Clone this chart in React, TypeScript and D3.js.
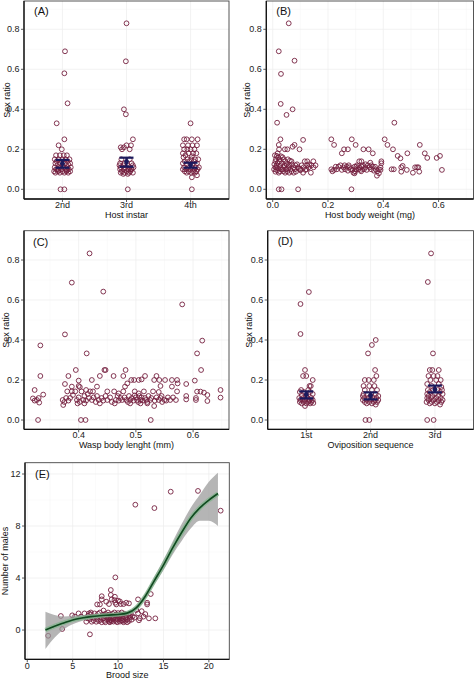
import React from "react";
import * as d3 from "d3";

// ---------------- DATA ----------------
const instarCats = ["2nd", "3rd", "4th"];
const seqCats = ["1st", "2nd", "3rd"];
const ratioTicks = [0, 0.2, 0.4, 0.6, 0.8];
const weightTicks = [0, 0.2, 0.4, 0.6];
const lengthTicks = [0.4, 0.5, 0.6];
const broodTicks = [0, 5, 10, 15, 20];
const malesTicks = [0, 4, 8, 12];

// [jitter (fraction of category step), sex ratio]
const instar2nd: [number, number][] = [
  [0.04, 0.69], [0.03, 0.58], [0.08, 0.43], [-0.09, 0.33], [0.03, 0.25], [-0.06, 0.22], [-0.01, 0.2], [-0.03, 0], [0.03, 0],
  [-0.1, 0.17], [-0.04, 0.17], [0.02, 0.17], [0.07, 0.17], [-0.12, 0.15], [-0.06, 0.15], [0.0, 0.15], [0.05, 0.15], [0.11, 0.15],
  [-0.09, 0.14], [0.08, 0.14], [-0.11, 0.13], [-0.03, 0.13], [0.04, 0.13], [0.12, 0.13], [-0.07, 0.125], [0.09, 0.125],
  [-0.12, 0.11], [-0.05, 0.11], [0.02, 0.11], [0.08, 0.11], [0.13, 0.11], [-0.1, 0.1], [-0.02, 0.1], [0.05, 0.1], [0.1, 0.1],
  [-0.13, 0.09], [-0.07, 0.09], [0.0, 0.09], [0.06, 0.09], [0.12, 0.09], [-0.11, 0.083], [-0.04, 0.083], [0.03, 0.083],
  [0.09, 0.083], [-0.08, 0.1], [0.0, 0.12], [-0.06, 0.095], [0.07, 0.095],
];
const instar3rd: [number, number][] = [
  [0.0, 0.83], [-0.01, 0.64], [-0.04, 0.4], [-0.01, 0.375], [0.1, 0.25], [0.07, 0.22], [-0.04, 0.21], [-0.09, 0.21], [0.0, 0.22],
  [0.05, 0.2], [-0.07, 0.2], [0.02, 0],
  [-0.08, 0.15], [0.05, 0.15], [-0.1, 0.13], [-0.03, 0.13], [0.08, 0.13], [-0.11, 0.12], [-0.05, 0.12], [0.02, 0.12], [0.1, 0.12],
  [-0.09, 0.11], [-0.02, 0.11], [0.05, 0.11], [0.11, 0.11], [-0.1, 0.1], [-0.04, 0.1], [0.03, 0.1], [0.08, 0.1], [-0.07, 0.09],
  [0.0, 0.09], [0.06, 0.09], [-0.09, 0.083], [-0.03, 0.083], [0.04, 0.083], [0.1, 0.083], [-0.05, 0.077], [0.02, 0.077], [0.07, 0.1],
];
const instar4th: [number, number][] = [
  [0.0, 0.33], [-0.1, 0.25], [-0.06, 0.25], [0.02, 0.25], [0.11, 0.25], [-0.12, 0.22], [-0.04, 0.22], [0.03, 0.22], [0.1, 0.22],
  [-0.1, 0.2], [-0.05, 0.2], [0.0, 0.2], [0.06, 0.2], [-0.12, 0.18], [-0.03, 0.18], [0.04, 0.18], [0.09, 0.18], [-0.08, 0.17],
  [0.02, 0.165], [-0.11, 0.16], [-0.05, 0.15], [0.01, 0.15], [0.07, 0.15], [0.12, 0.15], [-0.09, 0.14], [-0.02, 0.14], [0.05, 0.14],
  [-0.12, 0.13], [-0.06, 0.125], [0.03, 0.125], [0.1, 0.13], [-0.1, 0.11], [-0.04, 0.11], [0.02, 0.11], [0.08, 0.11], [0.13, 0.11],
  [-0.12, 0.1], [-0.07, 0.1], [0.0, 0.1], [0.06, 0.1], [0.11, 0.1], [-0.09, 0.09], [-0.03, 0.09], [0.04, 0.09], [0.09, 0.09],
  [-0.06, 0.083], [0.01, 0.083], [0.07, 0.083], [0.1, 0.07], [0.02, 0.06], [0.02, 0],
];
// [mean, lower, upper]
const instarMeans: [number, number, number][] = [
  [0.13, 0.108, 0.147], [0.138, 0.113, 0.158], [0.122, 0.108, 0.133],
];

const seq1st: [number, number][] = [
  [0.04, 0.64], [-0.09, 0.58], [-0.09, 0.43], [-0.02, 0.25], [-0.05, 0.22], [0.0, 0.22], [0.1, 0.2], [0.07, 0.17], [0.05, 0.17],
  [-0.08, 0.15], [0.03, 0.15], [-0.1, 0.14], [-0.04, 0.14], [0.06, 0.14], [0.1, 0.13], [-0.07, 0.125], [0.0, 0.12],
  [-0.11, 0.11], [-0.05, 0.11], [0.02, 0.11], [0.08, 0.11], [-0.09, 0.1], [-0.02, 0.1], [0.05, 0.1], [0.1, 0.1],
  [-0.1, 0.09], [-0.04, 0.09], [0.03, 0.09], [0.08, 0.09], [-0.07, 0.083], [0.0, 0.083], [0.06, 0.083], [-0.02, 0.07],
  [0.04, 0.095], [-0.06, 0.1], [0.11, 0.085],
];
const seq2nd: [number, number][] = [
  [0.08, 0.4], [0.02, 0.375], [-0.04, 0.333], [0.07, 0.25], [0.09, 0.22], [-0.09, 0.2], [-0.03, 0.2], [0.05, 0.2], [0.06, 0.17],
  [-0.11, 0.17], [-0.02, 0.17], [-0.09, 0.15], [0.02, 0.15], [0.1, 0.15], [-0.11, 0.13], [-0.05, 0.13], [0.08, 0.13],
  [-0.12, 0.12], [0.0, 0.12], [0.12, 0.12], [-0.1, 0.11], [-0.04, 0.11], [0.03, 0.11], [0.09, 0.11], [-0.12, 0.1], [-0.06, 0.1],
  [0.01, 0.1], [0.07, 0.1], [0.12, 0.1], [-0.09, 0.09], [-0.02, 0.09], [0.05, 0.09], [0.1, 0.09], [-0.06, 0.083], [0.02, 0.083],
  [0.08, 0.077], [-0.08, 0], [-0.02, 0],
];
const seq3rd: [number, number][] = [
  [-0.06, 0.833], [-0.11, 0.69], [-0.03, 0.333], [-0.08, 0.25], [-0.04, 0.25], [0.06, 0.25], [-0.1, 0.22], [-0.02, 0.22],
  [0.04, 0.22], [-0.07, 0.2], [0.02, 0.2], [0.09, 0.2], [-0.12, 0.18], [0.06, 0.18], [-0.05, 0.17], [0.1, 0.165],
  [-0.11, 0.15], [-0.03, 0.15], [0.04, 0.15], [0.11, 0.15], [-0.08, 0.14], [0.08, 0.14], [-0.12, 0.13], [0.0, 0.13],
  [0.12, 0.13], [-0.1, 0.12], [-0.04, 0.12], [0.05, 0.12], [-0.12, 0.11], [-0.06, 0.11], [0.02, 0.11], [0.09, 0.11],
  [-0.1, 0.1], [-0.02, 0.1], [0.06, 0.1], [0.12, 0.1], [-0.13, 0.09], [-0.05, 0.09], [0.03, 0.09], [0.1, 0.09],
  [-0.08, 0.083], [0.0, 0.083], [0.08, 0.077], [-0.12, 0], [-0.02, 0],
];
const seqMeans: [number, number, number][] = [
  [0.127, 0.108, 0.143], [0.122, 0.103, 0.138], [0.153, 0.138, 0.172],
];

// [host body weight (mg), sex ratio]
const weightRatio: [number, number][] = [
  [0.058, 0.83], [0.022, 0.69], [0.079, 0.643], [0.03, 0.577], [0.029, 0.427], [0.072, 0.4], [0.05, 0.372], [0.016, 0.333], [0.44, 0.333],
  [0.028, 0.25], [0.11, 0.247], [0.212, 0.25], [0.286, 0.25], [0.405, 0.25],
  [0.222, 0.222], [0.3, 0.222], [0.415, 0.222], [0.532, 0.222], [0.022, 0.222], [0.079, 0.222], [0.072, 0.213],
  [0.023, 0.2], [0.044, 0.2], [0.053, 0.2], [0.097, 0.2], [0.258, 0.2], [0.272, 0.2], [0.328, 0.2], [0.347, 0.2], [0.435, 0.2],
  [0.55, 0.18], [0.487, 0.18], [0.362, 0.18], [0.25, 0.18], [0.452, 0.167], [0.462, 0.155], [0.593, 0.157], [0.605, 0.167], [0.559, 0.157],
  [0.116, 0.14], [0.125, 0.14], [0.147, 0.14], [0.313, 0.14], [0.321, 0.14], [0.353, 0.133], [0.393, 0.14], [0.393, 0.13],
  [0.43, 0.1], [0.465, 0.11], [0.47, 0.117], [0.485, 0.097], [0.507, 0.083], [0.515, 0.11], [0.522, 0.11], [0.527, 0.11],
  [0.53, 0.088], [0.612, 0.097], [0.465, 0.088], [0.438, 0.1],
  [0.022, 0], [0.032, 0], [0.092, 0], [0.285, 0],
  [0.377, 0.068], [0.384, 0.08], [0.296, 0.08],
  // dense low-weight cluster
  [0.008, 0.17], [0.015, 0.167], [0.02, 0.16], [0.03, 0.165], [0.012, 0.15], [0.025, 0.15], [0.04, 0.15], [0.055, 0.15],
  [0.062, 0.143], [0.068, 0.14], [0.045, 0.14], [0.01, 0.14], [0.018, 0.133], [0.033, 0.13], [0.05, 0.125], [0.07, 0.125],
  [0.082, 0.12], [0.088, 0.125], [0.006, 0.125], [0.014, 0.12], [0.027, 0.117], [0.04, 0.113], [0.058, 0.113], [0.075, 0.11],
  [0.01, 0.11], [0.02, 0.105], [0.035, 0.1], [0.048, 0.1], [0.064, 0.1], [0.08, 0.1], [0.095, 0.103], [0.005, 0.1],
  [0.016, 0.095], [0.026, 0.09], [0.038, 0.09], [0.052, 0.09], [0.068, 0.09], [0.084, 0.088], [0.01, 0.088],
  [0.022, 0.083], [0.045, 0.083], [0.06, 0.083], [0.076, 0.083], [0.03, 0.1], [0.014, 0.11], [0.042, 0.12], [0.056, 0.105],
  [0.024, 0.14], [0.036, 0.16], [0.018, 0.18], [0.06, 0.12], [0.092, 0.11], [0.1, 0.095],
  // mid cluster
  [0.105, 0.12], [0.112, 0.11], [0.118, 0.097], [0.125, 0.12], [0.13, 0.11], [0.138, 0.083], [0.14, 0.12], [0.148, 0.11],
  [0.11, 0.083], [0.122, 0.1], [0.155, 0.12], [0.132, 0.125], [0.1, 0.1],
  // 0.21-0.39 band
  [0.212, 0.1], [0.216, 0.09], [0.222, 0.097], [0.232, 0.1], [0.238, 0.113], [0.245, 0.12], [0.25, 0.097], [0.256, 0.11],
  [0.262, 0.1], [0.268, 0.113], [0.272, 0.093], [0.278, 0.11], [0.282, 0.1], [0.288, 0.097], [0.292, 0.083], [0.296, 0.113],
  [0.3, 0.1], [0.305, 0.12], [0.31, 0.1], [0.314, 0.11], [0.318, 0.097], [0.322, 0.113], [0.326, 0.12], [0.33, 0.1],
  [0.335, 0.11], [0.34, 0.097], [0.344, 0.12], [0.35, 0.11], [0.356, 0.1], [0.362, 0.113], [0.366, 0.093], [0.372, 0.1],
  [0.378, 0.09], [0.384, 0.1], [0.39, 0.097], [0.39, 0.11], [0.228, 0.113], [0.26, 0.12], [0.275, 0.12], [0.302, 0.113],
  [0.336, 0.125], [0.357, 0.12], [0.37, 0.113], [0.298, 0.09], [0.32, 0.09],
];

// [wasp body length (mm), sex ratio]
const lengthRatio: [number, number][] = [
  [0.419, 0.833], [0.388, 0.687], [0.443, 0.642], [0.581, 0.578], [0.376, 0.428], [0.333, 0.373], [0.414, 0.333], [0.616, 0.397],
  [0.607, 0.333], [0.614, 0.25],
  [0.395, 0.25], [0.445, 0.25], [0.447, 0.25], [0.482, 0.25],
  [0.333, 0.22], [0.382, 0.22], [0.437, 0.22], [0.461, 0.22], [0.478, 0.22], [0.536, 0.22], [0.516, 0.22],
  [0.376, 0.18], [0.4, 0.197], [0.423, 0.2], [0.492, 0.2], [0.497, 0.2], [0.505, 0.2], [0.51, 0.203], [0.532, 0.2], [0.541, 0.2],
  [0.551, 0.2], [0.563, 0.2], [0.572, 0.2], [0.588, 0.18], [0.603, 0.197], [0.607, 0.142], [0.613, 0.142],
  [0.432, 0.167], [0.481, 0.167], [0.485, 0.183], [0.543, 0.17], [0.563, 0.167], [0.573, 0.183], [0.388, 0.167], [0.4, 0.17],
  [0.402, 0.165], [0.413, 0.15],
  [0.329, 0], [0.404, 0], [0.412, 0], [0.526, 0],
  [0.648, 0.15], [0.648, 0.112], [0.625, 0.125], [0.625, 0.095], [0.619, 0.137], [0.605, 0.11], [0.605, 0.1], [0.588, 0.12],
  [0.588, 0.103], [0.323, 0.15], [0.32, 0.108], [0.338, 0.127], [0.327, 0.1], [0.331, 0.087], [0.532, 0.07], [0.373, 0.075],
  [0.323, 0.097], [0.33, 0.11],
  // dense band
  [0.372, 0.1], [0.375, 0.09], [0.378, 0.11], [0.38, 0.143], [0.382, 0.097], [0.385, 0.11], [0.39, 0.125], [0.394, 0.143],
  [0.397, 0.1], [0.4, 0.113], [0.402, 0.09], [0.405, 0.143], [0.408, 0.1], [0.41, 0.12], [0.413, 0.097], [0.416, 0.13],
  [0.418, 0.11], [0.42, 0.143], [0.423, 0.1], [0.426, 0.113], [0.43, 0.09], [0.432, 0.12], [0.435, 0.1], [0.44, 0.11],
  [0.443, 0.097], [0.447, 0.12], [0.45, 0.1], [0.455, 0.113], [0.458, 0.09], [0.462, 0.143], [0.465, 0.1], [0.468, 0.12],
  [0.47, 0.097], [0.473, 0.11], [0.476, 0.1], [0.478, 0.143], [0.48, 0.113], [0.483, 0.1], [0.486, 0.09], [0.488, 0.12],
  [0.49, 0.1], [0.493, 0.11], [0.496, 0.097], [0.498, 0.143], [0.5, 0.113], [0.502, 0.1], [0.504, 0.09], [0.506, 0.12],
  [0.508, 0.1], [0.51, 0.113], [0.512, 0.097], [0.514, 0.143], [0.516, 0.11], [0.518, 0.1], [0.52, 0.09], [0.522, 0.12],
  [0.525, 0.1], [0.527, 0.11], [0.53, 0.143], [0.533, 0.097], [0.536, 0.113], [0.54, 0.1], [0.543, 0.11], [0.546, 0.09],
  [0.55, 0.1], [0.553, 0.097], [0.556, 0.113], [0.56, 0.1], [0.565, 0.113], [0.57, 0.1], [0.572, 0.143], [0.545, 0.12],
  [0.508, 0.083], [0.49, 0.083], [0.463, 0.083], [0.437, 0.083], [0.41, 0.083], [0.398, 0.083], [0.52, 0.083],
  [0.388, 0.143], [0.425, 0.143], [0.45, 0.143], [0.47, 0.133], [0.505, 0.133], [0.54, 0.14], [0.498, 0.123],
];

// [brood size, number of males]
const broodMales: [number, number][] = [
  [2.3, -0.44], [3.7, 1.08], [3.85, 0.08], [4.95, 1.13], [5.25, 1.03], [6.9, -0.33], [9.7, 4.05], [11.9, 9.64], [14.0, 9.38],
  [15.8, 10.64], [18.8, 10.7], [21.3, 9.18], [12.2, 2.36], [13.2, 2.1], [13.2, 1.97], [13.6, 2.77], [13.0, 1.23], [12.8, 1.03],
  [13.4, 0.9], [14.1, 0.9], [12.2, 1.28], [12.0, 1.54], [12.4, 0.9],
  [9.2, 3.08], [9.2, 2.7], [8.2, 2.6], [8.2, 2.36], [8.0, 1.97], [7.7, 1.97], [8.7, 2.18], [9.7, 2.1], [9.6, 2.3], [10.0, 2.26],
  [9.8, 1.97], [10.3, 2.0], [10.6, 2.0], [10.9, 2.1], [11.2, 2.05], [9.65, 2.56], [9.3, 2.36], [10.2, 2.2], [9.0, 2.0],
  [5.65, 1.28], [5.9, 1.03], [6.3, 1.28], [6.5, 0.64], [6.6, 0.9], [6.8, 1.28], [7.1, 0.64], [7.4, 1.28], [7.6, 0.64],
  [6.7, 1.1], [6.9, 0.85], [7.0, 1.2], [7.2, 0.95], [7.3, 0.75], [7.5, 1.05], [7.7, 0.85], [7.8, 1.25], [7.9, 0.7],
  [8.0, 1.0], [8.1, 0.8], [8.3, 1.15], [8.4, 0.9], [8.5, 0.7], [8.6, 1.25], [8.7, 1.0], [8.8, 0.8], [8.9, 1.15],
  [9.0, 0.65], [9.0, 0.95], [9.1, 1.2], [9.2, 0.8], [9.3, 1.05], [9.3, 0.7], [9.4, 1.25], [9.5, 0.9], [9.5, 0.65],
  [9.6, 1.1], [9.7, 0.8], [9.8, 1.2], [9.8, 0.7], [9.9, 0.95], [10.0, 1.3], [10.0, 0.8], [10.1, 1.05], [10.2, 0.65],
  [10.3, 0.9], [10.3, 1.2], [10.4, 0.75], [10.5, 1.05], [10.6, 0.85], [10.7, 1.25], [10.8, 0.7], [10.9, 1.0], [11.0, 0.8],
  [11.1, 1.15], [11.2, 0.7], [11.3, 0.95], [11.4, 1.25], [11.5, 0.8], [11.6, 1.05], [8.9, 1.35], [9.6, 1.35], [10.4, 1.35],
  [8.2, 0.6], [8.6, 0.6], [9.1, 0.6], [9.9, 0.6], [10.6, 0.6], [11.0, 0.6], [7.0, 1.35], [8.0, 1.35], [11.8, 0.95],
  [12.3, 0.75], [12.6, 1.45], [8.4, 1.5],
  [8.8, 1.05], [9.4, 0.85], [10.2, 1.1], [10.8, 0.95], [9.9, 1.15], [9.1, 0.75], [8.5, 1.1], [10.5, 0.7], [11.3, 1.1],
];

// smooth fit (brood size -> males) with confidence band
const fitX = [2, 3, 4, 5, 6, 7, 8, 9, 10, 11, 12, 13, 14, 15, 16, 17, 18, 19, 20, 21];
const fitY = [0.0, 0.3, 0.55, 0.78, 0.93, 1.03, 1.1, 1.15, 1.2, 1.3, 1.7, 2.6, 3.8, 5.0, 6.3, 7.5, 8.6, 9.4, 10.0, 10.5];
const fitLow = [-1.45, -0.6, 0.05, 0.45, 0.7, 0.86, 0.97, 1.03, 1.08, 1.15, 1.5, 2.35, 3.5, 4.6, 5.8, 6.85, 7.8, 8.4, 8.4, 8.0];
const fitHigh = [1.4, 1.15, 1.05, 1.1, 1.15, 1.2, 1.23, 1.27, 1.32, 1.45, 1.9, 2.85, 4.1, 5.4, 6.8, 8.15, 9.4, 10.4, 11.4, 12.1];

// ---------------- STYLE ----------------
const FONT = "'Liberation Sans', Arial, sans-serif";
const FS = 9;
const PT = "#75203f";
const EB = "#1b1a5c";

type Box = { left: number; right: number; top: number; bottom: number };

function Frame({ box, xGrid, yGrid, xMinor, yMinor, children }: any) {
  return (
    <g>
      <rect x={box.left} y={box.top} width={box.right - box.left} height={box.bottom - box.top} fill="#fff" />
      {yMinor.map((v: number, i: number) => (
        <line key={"ym" + i} x1={box.left} x2={box.right} y1={v} y2={v} stroke="#f4f4f4" strokeWidth={0.5} />
      ))}
      {xMinor.map((v: number, i: number) => (
        <line key={"xm" + i} y1={box.top} y2={box.bottom} x1={v} x2={v} stroke="#f4f4f4" strokeWidth={0.5} />
      ))}
      {yGrid.map((v: number, i: number) => (
        <line key={"yg" + i} x1={box.left} x2={box.right} y1={v} y2={v} stroke="#ececec" strokeWidth={0.7} />
      ))}
      {xGrid.map((v: number, i: number) => (
        <line key={"xg" + i} y1={box.top} y2={box.bottom} x1={v} x2={v} stroke="#ececec" strokeWidth={0.7} />
      ))}
      {children}
      <rect x={box.left} y={box.top} width={box.right - box.left} height={box.bottom - box.top} fill="none" stroke="#444" strokeWidth={0.9} />
      <line x1={box.left} x2={box.left} y1={box.top} y2={box.bottom} stroke="#111" strokeWidth={1.3} />
      <line x1={box.left} x2={box.right} y1={box.bottom} y2={box.bottom} stroke="#111" strokeWidth={1.3} />
    </g>
  );
}

function YAxis({ box, ticks, scale, fmt, title, titleX }: any) {
  const cy = (box.top + box.bottom) / 2;
  return (
    <g fontFamily={FONT} fontSize={FS} fill="#222">
      {ticks.map((t: number, i: number) => (
        <g key={i}>
          <line x1={box.left - 3} x2={box.left} y1={scale(t)} y2={scale(t)} stroke="#333" strokeWidth={0.8} />
          <text x={box.left - 4.5} y={scale(t)} dy="0.35em" textAnchor="end">{fmt(t)}</text>
        </g>
      ))}
      <text transform={`translate(${titleX},${cy}) rotate(-90)`} textAnchor="middle" fill="#111">{title}</text>
    </g>
  );
}

function XAxis({ box, ticks, pos, labels, title, tickY, titleY }: any) {
  const cx = (box.left + box.right) / 2;
  return (
    <g fontFamily={FONT} fontSize={FS} fill="#222">
      {ticks.map((t: any, i: number) => (
        <g key={i}>
          <line x1={pos(t)} x2={pos(t)} y1={box.bottom} y2={box.bottom + 3} stroke="#333" strokeWidth={0.8} />
          <text x={pos(t)} y={tickY} textAnchor="middle">{labels[i]}</text>
        </g>
      ))}
      <text x={cx} y={titleY} textAnchor="middle" fill="#111">{title}</text>
    </g>
  );
}

function Pts({ data, x, y }: any) {
  return (
    <g>
      {data.map((d: [number, number], i: number) => (
        <circle key={i} cx={x(d)} cy={y(d)} r={2.4} fill="none" stroke={PT} strokeWidth={0.9} />
      ))}
    </g>
  );
}

function ErrBars({ cats, means, x, y }: any) {
  return (
    <g stroke={EB} strokeWidth={2.2}>
      {means.map((m: [number, number, number], i: number) => {
        const cx = x(cats[i]);
        return (
          <g key={i}>
            <line x1={cx} x2={cx} y1={y(m[1])} y2={y(m[2])} />
            <line x1={cx - 7} x2={cx + 7} y1={y(m[1])} y2={y(m[1])} />
            <line x1={cx - 7} x2={cx + 7} y1={y(m[2])} y2={y(m[2])} />
            <circle cx={cx} cy={y(m[0])} r={2.4} fill={EB} stroke="none" />
          </g>
        );
      })}
    </g>
  );
}

const f1 = d3.format(".1f");
const minorRatio = [0.1, 0.3, 0.5, 0.7, 0.9];

function CatPanel({ box, cats, groups, means, label, title, titleX, tickY, titleY, yDomain }: any) {
  const x = d3.scalePoint<string>().domain(cats).range([box.left, box.right]).padding(0.6);
  const y = d3.scaleLinear().domain(yDomain).range([box.bottom, box.top]);
  const step = x.step();
  return (
    <g>
      <Frame box={box} xGrid={cats.map((c: string) => x(c))} yGrid={ratioTicks.map(y)} xMinor={[]} yMinor={minorRatio.map(y)}>
        {groups.map((g: [number, number][], gi: number) => (
          <Pts key={gi} data={g} x={(d: [number, number]) => (x(cats[gi]) as number) + d[0] * step} y={(d: [number, number]) => y(d[1])} />
        ))}
        <ErrBars cats={cats} means={means} x={x} y={y} />
        <text x={box.left + 10} y={box.top + 14} fontFamily={FONT} fontSize={11} fill="#111">{label}</text>
      </Frame>
      <YAxis box={box} ticks={ratioTicks} scale={y} fmt={f1} title="Sex ratio" titleX={titleX} />
      <XAxis box={box} ticks={cats} pos={x} labels={cats} title={title} tickY={tickY} titleY={titleY} />
    </g>
  );
}

export default function App() {
  const boxA: Box = { left: 24, right: 229, top: 1, bottom: 199 };
  const boxB: Box = { left: 266.3, right: 473.5, top: 1, bottom: 199 };
  const boxC: Box = { left: 24, right: 229, top: 230.7, bottom: 429.3 };
  const boxD: Box = { left: 267.7, right: 473.5, top: 230.7, bottom: 429.3 };
  const boxE: Box = { left: 25, right: 229.3, top: 462.7, bottom: 659.3 };

  // B
  const xB = d3.scaleLinear().domain([-0.0231, 0.7262]).range([boxB.left, boxB.right]);
  const yB = d3.scaleLinear().domain([-0.0485, 0.9415]).range([boxB.bottom, boxB.top]);
  // C
  const xC = d3.scaleLinear().domain([0.3044, 0.6628]).range([boxC.left, boxC.right]);
  const yC = d3.scaleLinear().domain([-0.0465, 0.9465]).range([boxC.bottom, boxC.top]);
  // E
  const xE = d3.scaleLinear().domain([-0.25, 22.25]).range([boxE.left, boxE.right]);
  const yE = d3.scaleLinear().domain([-2.25, 12.87]).range([boxE.bottom, boxE.top]);

  const fitIdx = fitX.map((_, i) => i);
  const area = d3.area<number>().x((i) => xE(fitX[i])).y0((i) => yE(fitLow[i])).y1((i) => yE(fitHigh[i])).curve(d3.curveMonotoneX);
  const line = d3.line<number>().x((i) => xE(fitX[i])).y((i) => yE(fitY[i])).curve(d3.curveMonotoneX);

  return (
    <svg width={474} height={678} style={{ position: "absolute", left: 0, top: 0, background: "#fff" }}>
      <CatPanel box={boxA} cats={instarCats} groups={[instar2nd, instar3rd, instar4th]} means={instarMeans} label="(A)"
        title="Host instar" titleX={10} tickY={207.5} titleY={217.5} yDomain={[-0.0485, 0.9415]} />

      <g>
        <Frame box={boxB} xGrid={weightTicks.map(xB)} yGrid={ratioTicks.map(yB)} xMinor={[0.1, 0.3, 0.5, 0.7].map(xB)} yMinor={minorRatio.map(yB)}>
          <Pts data={weightRatio} x={(d: [number, number]) => xB(d[0])} y={(d: [number, number]) => yB(d[1])} />
          <text x={boxB.left + 10} y={boxB.top + 14} fontFamily={FONT} fontSize={11} fill="#111">(B)</text>
        </Frame>
        <YAxis box={boxB} ticks={ratioTicks} scale={yB} fmt={f1} title="Sex ratio" titleX={250} />
        <XAxis box={boxB} ticks={weightTicks} pos={xB} labels={weightTicks.map(f1)} title="Host body weight (mg)" tickY={207.5} titleY={217.5} />
      </g>

      <g>
        <Frame box={boxC} xGrid={lengthTicks.map(xC)} yGrid={ratioTicks.map(yC)} xMinor={[0.35, 0.45, 0.55, 0.65].map(xC)} yMinor={minorRatio.map(yC)}>
          <Pts data={lengthRatio} x={(d: [number, number]) => xC(d[0])} y={(d: [number, number]) => yC(d[1])} />
          <text x={boxC.left + 9} y={boxC.top + 15} fontFamily={FONT} fontSize={11} fill="#111">(C)</text>
        </Frame>
        <YAxis box={boxC} ticks={ratioTicks} scale={yC} fmt={f1} title="Sex ratio" titleX={9} />
        <XAxis box={boxC} ticks={lengthTicks} pos={xC} labels={lengthTicks.map(f1)} title="Wasp body lenght (mm)" tickY={437.5} titleY={447.5} />
      </g>

      <CatPanel box={boxD} cats={seqCats} groups={[seq1st, seq2nd, seq3rd]} means={seqMeans} label="(D)"
        title="Oviposition sequence" titleX={251.5} tickY={437.5} titleY={447.5} yDomain={[-0.0465, 0.9465]} />

      <g>
        <Frame box={boxE} xGrid={broodTicks.map(xE)} yGrid={malesTicks.map(yE)} xMinor={[2.5, 7.5, 12.5, 17.5].map(xE)} yMinor={[-2, 2, 6, 10].map(yE)}>
          <Pts data={broodMales} x={(d: [number, number]) => xE(d[0])} y={(d: [number, number]) => yE(d[1])} />
          <path d={area(fitIdx) || ""} fill="#999" fillOpacity={0.72} />
          <path d={line(fitIdx) || ""} fill="none" stroke="#7fb38a" strokeWidth={4.5} strokeOpacity={0.7} />
          <path d={line(fitIdx) || ""} fill="none" stroke="#0f4a1f" strokeWidth={1.6} />
          <text x={boxE.left + 10} y={boxE.top + 15} fontFamily={FONT} fontSize={11} fill="#111">(E)</text>
        </Frame>
        <YAxis box={boxE} ticks={malesTicks} scale={yE} fmt={(v: number) => String(v)} title="Number of males" titleX={8} />
        <XAxis box={boxE} ticks={broodTicks} pos={xE} labels={broodTicks.map(String)} title="Brood size" tickY={669} titleY={677.5} />
      </g>
    </svg>
  );
}
